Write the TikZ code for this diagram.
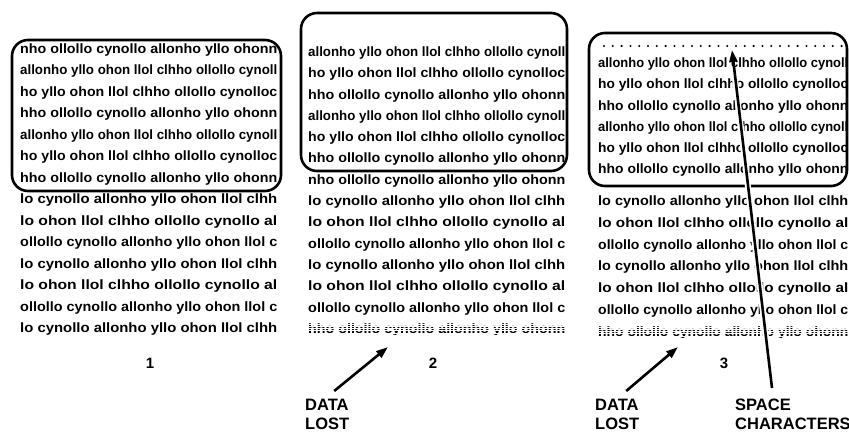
\documentclass[tikz,border=0pt]{standalone}
\usepackage{fontspec}
\setmainfont{Liberation Sans}
\usepackage{graphicx}
\usetikzlibrary{arrows.meta}
\newcommand{\rowtxt}[2]{\resizebox{#1}{\height}{#2}}
\tikzset{
  txt/.style={anchor=west, inner sep=0pt, font=\bfseries\fontsize{13.5}{13.5}\selectfont, text height=9.6pt, text depth=2.8pt},
  winbox/.style={line width=2.6pt, rounded corners=16pt},
  lbl/.style={font=\bfseries\fontsize{16.5}{18.5}\selectfont, inner sep=0pt, align=left, anchor=north west},
  num/.style={font=\bfseries\fontsize{15}{15}\selectfont, inner sep=0pt},
  pointer/.style={line width=2.6pt, -{Triangle[length=12pt,width=8pt]}},
  stripe/.style={white, line width=0.9pt},
  halo/.style={white, line width=6pt},
  dotrow/.style={line width=2.3pt, line cap=round, dash pattern=on 0pt off 8.8pt},
}
\begin{document}
\begin{tikzpicture}[x=1pt,y=-1pt]
\useasboundingbox (0,0) rectangle (849,432);
% ---------- panel 1 ----------
\foreach \t [count=\i from 0] in {
  nho ollollo cynollo allonho yllo ohonn,
  allonho yllo ohon llol clhho ollollo cynoll,
  ho yllo ohon llol clhho ollollo cynolloc,
  hho ollollo cynollo allonho yllo ohonn,
  allonho yllo ohon llol clhho ollollo cynoll,
  ho yllo ohon llol clhho ollollo cynolloc,
  hho ollollo cynollo allonho yllo ohonn,
  lo cynollo allonho yllo ohon llol clhh,
  lo ohon llol clhho ollollo cynollo al,
  ollollo cynollo allonho yllo ohon llol c,
  lo cynollo allonho yllo ohon llol clhh,
  lo ohon llol clhho ollollo cynollo al,
  ollollo cynollo allonho yllo ohon llol c,
  lo cynollo allonho yllo ohon llol clhh}
  \node[txt] (pa\i) at (20,{50+21.5*\i}) {\rowtxt{257pt}{\t}};
\draw[winbox] (12,40) rectangle (281,191);
\node[num] (n1) at (150,363) {1};
% ---------- panel 2 ----------
\foreach \t [count=\i from 0] in {
  allonho yllo ohon llol clhho ollollo cynoll,
  ho yllo ohon llol clhho ollollo cynolloc,
  hho ollollo cynollo allonho yllo ohonn,
  allonho yllo ohon llol clhho ollollo cynoll,
  ho yllo ohon llol clhho ollollo cynolloc,
  hho ollollo cynollo allonho yllo ohonn,
  nho ollollo cynollo allonho yllo ohonn,
  lo cynollo allonho yllo ohon llol clhh,
  lo ohon llol clhho ollollo cynollo al,
  ollollo cynollo allonho yllo ohon llol c,
  lo cynollo allonho yllo ohon llol clhh,
  lo ohon llol clhho ollollo cynollo al,
  ollollo cynollo allonho yllo ohon llol c}
  \node[txt] (pb\i) at (308,{53+21.3*\i}) {\rowtxt{257pt}{\t}};
\node[txt] (gb) at (308,330) {\rowtxt{257pt}{hho ollollo cynollo allonho yllo ohonn}};
\foreach \d in {-7.5,-5.3,-3.1,-0.9,1.3,3.5,5.7}
  \draw[stripe] ([yshift=\d pt]gb.west) -- ([yshift=\d pt]gb.east);
\draw[winbox] (301,13) rectangle (567,171);
\node[num] (n2) at (433,363) {2};
\node[lbl] (dl2) at (305,399) {DATA\\LOST};
\coordinate (tip2) at (388,347);
\draw[pointer] ([xshift=7pt,yshift=8pt]dl2.north) -- (tip2);
% ---------- panel 3 ----------
\foreach \t [count=\i from 0] in {
  allonho yllo ohon llol clhho ollollo cynoll,
  ho yllo ohon llol clhho ollollo cynolloc,
  hho ollollo cynollo allonho yllo ohonn,
  allonho yllo ohon llol clhho ollollo cynoll,
  ho yllo ohon llol clhho ollollo cynolloc,
  hho ollollo cynollo allonho yllo ohonn}
  \node[txt] (pc\i) at (598,{64+21.3*\i}) {\rowtxt{250pt}{\t}};
\foreach \t [count=\i from 0] in {
  lo cynollo allonho yllo ohon llol clhh,
  lo ohon llol clhho ollollo cynollo al,
  ollollo cynollo allonho yllo ohon llol c,
  lo cynollo allonho yllo ohon llol clhh,
  lo ohon llol clhho ollollo cynollo al,
  ollollo cynollo allonho yllo ohon llol c}
  \node[txt] (pd\i) at (598,{202+21.8*\i}) {\rowtxt{250pt}{\t}};
\node[txt] (gc) at (598,333) {\rowtxt{250pt}{hho ollollo cynollo allonho yllo ohonn}};
\foreach \d in {-7.5,-5.3,-3.1,-0.9,1.3,3.5,5.7}
  \draw[stripe] ([yshift=\d pt]gc.west) -- ([yshift=\d pt]gc.east);
\coordinate (dotL) at (604,46);
\coordinate (dotR) at (845,46);
\draw[dotrow] (dotL) -- (dotR);
\draw[winbox] (589,33) rectangle (847,186);
\node[num] (n3) at (724,363) {3};
\node[lbl] (dl3) at (595,399) {DATA\\LOST};
\coordinate (tip3) at (678,347);
\draw[pointer] ([xshift=9pt,yshift=8pt]dl3.north) -- (tip3);
\node[lbl] (sc) at (735,399) {SPACE\\CHARACTERS};
\coordinate (tipS) at (732,50);
\coordinate (haloS) at (734,70);
\draw[halo] ([xshift=37pt,yshift=11pt]sc.north west) -- (haloS);
\draw[pointer] ([xshift=37pt,yshift=11pt]sc.north west) -- (tipS);
\end{tikzpicture}
\end{document}
